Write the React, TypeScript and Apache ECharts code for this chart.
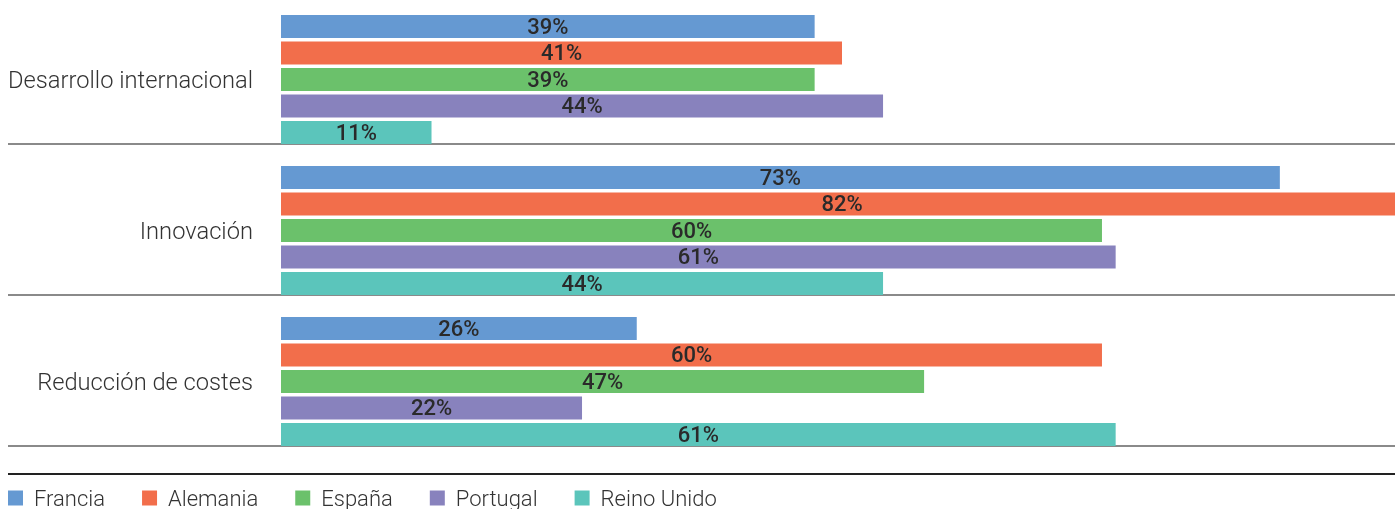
import React, { useEffect, useRef } from "react";
import * as echarts from "echarts";

const categories = ["Desarrollo internacional", "Innovación", "Reducción de costes"];
const seriesNames = ["Francia", "Alemania", "España", "Portugal", "Reino Unido"];
const francia = [39, 73, 26];
const alemania = [41, 82, 60];
const espana = [39, 60, 47];
const portugal = [44, 61, 22];
const reinoUnido = [11, 44, 61];
const seriesValues = [francia, alemania, espana, portugal, reinoUnido];
const colors = ["#6599d2", "#f26e4b", "#6bc16b", "#8882bd", "#5bc5bb"];

const FONT = "Roboto";

export default function App() {
  const ref = useRef<HTMLDivElement>(null);
  useEffect(() => {
    if (!ref.current) return;
    const chart = echarts.init(ref.current, null, { renderer: "svg" });
    const spacer = {
      name: "_spacer",
      type: "bar",
      data: categories.map(() => 0),
      barWidth: 19,
      barGap: "15.2%",
      silent: true,
      itemStyle: { color: "transparent" },
      label: { show: false },
    };
    const real = seriesNames.map((name, i) => ({
      name,
      type: "bar",
      data: seriesValues[i],
      barWidth: 23,
      barGap: "15.2%",
      itemStyle: { color: colors[i] },
      label: {
        show: true,
        position: "inside",
        formatter: "{c}%",
        color: "#2a2a2a",
        fontSize: 22,
        fontWeight: 500,
        fontFamily: FONT,
      },
    }));
    chart.setOption({
      animation: false,
      color: colors,
      grid: { left: 281, right: 0, top: 0, bottom: 63, containLabel: false },
      xAxis: { type: "value", min: 0, max: 82, show: false },
      yAxis: {
        type: "category",
        data: categories,
        inverse: true,
        axisLine: { show: false },
        axisTick: { show: true, length: 273, lineStyle: { color: "#8a8a8a", width: 2 } },
        splitLine: { show: true, lineStyle: { color: "#8a8a8a", width: 2 } },
        axisLabel: {
          margin: 28,
          fontSize: 23.7,
          fontFamily: FONT,
          fontWeight: 300,
          color: "#333",
          verticalAlign: "top",
          lineHeight: 23,
        },
      },
      legend: {
        data: seriesNames,
        left: 8,
        top: 494,
        padding: 0,
        itemWidth: 15,
        itemHeight: 15,
        itemGap: 37,
        icon: "rect",
        textStyle: {
          fontSize: 22,
          fontFamily: FONT,
          fontWeight: 300,
          color: "#333",
          padding: [0, 0, 0, 6],
        },
      },
      graphic: [
        {
          type: "line",
          shape: { x1: 8, y1: 481, x2: 1403, y2: 481 },
          style: { stroke: "#222", lineWidth: 2 },
          silent: true,
        },
      ],
      series: [spacer, ...real],
    });
    return () => chart.dispose();
  }, []);
  return (
    <div
      ref={ref}
      style={{ position: "fixed", left: 0, top: -7, width: 1403, height: 516 }}
    />
  );
}
